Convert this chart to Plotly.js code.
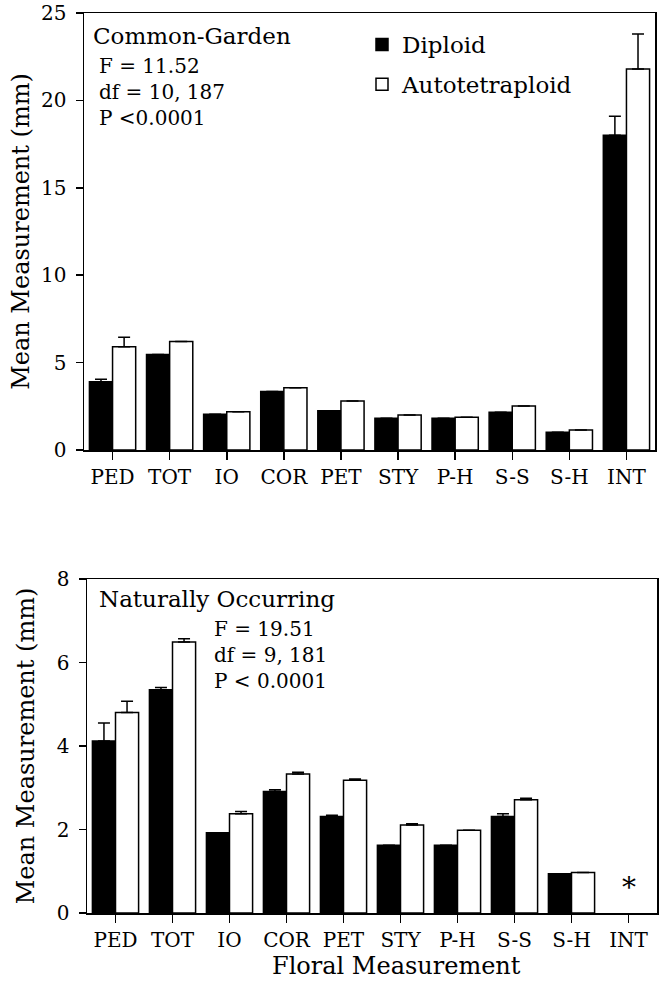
<!DOCTYPE html>
<html>
<head>
<meta charset="utf-8">
<script src="https://cdn.plot.ly/plotly-3.0.1.min.js"></script>
<style>html,body{margin:0;padding:0;background:#fff;}#chart{width:663px;height:989px;}</style>
</head>
<body>
<div id="chart"></div>
<script>
// ---- data ----
const categories = ['PED','TOT','IO','COR','PET','STY','P-H','S-S','S-H','INT'];

// Common-Garden
const gardenDiploid     = [3.9, 5.47, 2.04, 3.34, 2.25, 1.81, 1.81, 2.16, 1.01, 18.0];
const gardenDiploidErr  = [0.15, null, null, null, null, null, null, null, null, 1.1];
const gardenTetra       = [5.9, 6.2, 2.19, 3.56, 2.8, 2.0, 1.87, 2.52, 1.14, 21.8];
const gardenTetraErr    = [0.55, null, null, null, null, null, null, null, null, 2.0];

// Naturally Occurring (INT not measured)
const naturalDiploid    = [4.12, 5.35, 1.92, 2.91, 2.31, 1.62, 1.62, 2.31, 0.94, null];
const naturalDiploidErr = [0.43, 0.05, null, 0.04, 0.03, null, null, 0.07, null, null];
const naturalTetra      = [4.8, 6.49, 2.38, 3.33, 3.18, 2.11, 1.98, 2.71, 0.97, null];
const naturalTetraErr   = [0.27, 0.08, 0.05, 0.04, 0.03, 0.03, null, 0.04, null, null];

const seriesNames = ['Diploid', 'Autotetraploid'];
const gardenTicks = [0, 5, 10, 15, 20, 25];
const naturalTicks = [0, 2, 4, 6, 8];

// ---- styling ----
const W = 663, H = 989;
const px = v => v / W;
const py = v => 1 - v / H;
const FONT = 'DejaVu Serif, serif';

function errSpec(arr) {
  return {type: 'data', symmetric: false, array: arr,
          arrayminus: arr.map(() => 0),
          color: '#000', thickness: 1.5, width: 6};
}

const traces = [
  {type: 'bar', name: seriesNames[0], x: categories, y: gardenDiploid,
   xaxis: 'x', yaxis: 'y', legendgroup: 'a',
   marker: {color: '#000', line: {color: '#000', width: 1.5}},
   error_y: errSpec(gardenDiploidErr)},
  {type: 'bar', name: seriesNames[1], x: categories, y: gardenTetra,
   xaxis: 'x', yaxis: 'y', legendgroup: 'b',
   marker: {color: '#fff', line: {color: '#000', width: 1.5}},
   error_y: errSpec(gardenTetraErr)},
  {type: 'bar', name: seriesNames[0], x: categories, y: naturalDiploid,
   xaxis: 'x2', yaxis: 'y2', showlegend: false,
   marker: {color: '#000', line: {color: '#000', width: 1.5}},
   error_y: errSpec(naturalDiploidErr)},
  {type: 'bar', name: seriesNames[1], x: categories, y: naturalTetra,
   xaxis: 'x2', yaxis: 'y2', showlegend: false,
   marker: {color: '#fff', line: {color: '#000', width: 1.5}},
   error_y: errSpec(naturalTetraErr)}
];

const xBase = {
  type: 'category', range: [-0.5, 9.5], fixedrange: true,
  showline: true, mirror: true, linecolor: '#000', linewidth: 1.5,
  ticks: 'outside', ticklen: 8, tickwidth: 1.5, tickcolor: '#000',
  tickfont: {family: FONT, size: 20, color: '#000'},
  showgrid: false, zeroline: false
};
const yBase = {
  showline: true, mirror: true, linecolor: '#000', linewidth: 1.5,
  ticks: 'outside', ticklen: 7, tickwidth: 1.5, tickcolor: '#000',
  tickfont: {family: FONT, size: 20, color: '#000'}, ticklabelstandoff: 5,
  showgrid: false, zeroline: false, fixedrange: true, automargin: false
};

function ann(text, x, y, size) {
  return {text: text, xref: 'paper', yref: 'paper', x: px(x), y: py(y),
          xanchor: 'left', yanchor: 'middle', align: 'left', showarrow: false,
          font: {family: FONT, size: size, color: '#000'}};
}

const layout = {
  width: W, height: H,
  margin: {l: 0, r: 0, t: 0, b: 0},
  paper_bgcolor: '#fff', plot_bgcolor: '#fff',
  barmode: 'group', bargap: 0.19, bargroupgap: 0,
  showlegend: true,
  legend: {x: px(362), y: py(23), xanchor: 'left', yanchor: 'top',
           font: {family: FONT, size: 23, color: '#000'},
           bgcolor: 'rgba(0,0,0,0)', tracegroupgap: 7},
  xaxis: Object.assign({}, xBase, {domain: [px(84), px(655)], anchor: 'y'}),
  yaxis: Object.assign({}, yBase, {domain: [py(450), py(13)], anchor: 'x',
    range: [0, 25], tickvals: gardenTicks,
    title: {text: 'Mean Measurement (mm)', font: {family: FONT, size: 24, color: '#000'}, standoff: 4}}),
  xaxis2: Object.assign({}, xBase, {domain: [px(87), px(657)], anchor: 'y2'}),
  yaxis2: Object.assign({}, yBase, {domain: [py(913), py(579)], anchor: 'x2',
    range: [0, 8], tickvals: naturalTicks,
    title: {text: 'Mean Measurement (mm)', font: {family: FONT, size: 24, color: '#000'}, standoff: 15}}),
  annotations: [
    ann('Common-Garden', 91, 36, 23),
    ann('F = 11.52<br>df = 10, 187<br>P &lt;0.0001', 97, 92, 20),
    ann('Naturally Occurring', 97, 599, 23),
    ann('F = 19.51<br>df = 9, 181<br>P &lt; 0.0001', 212, 655, 20),
    {text: '*', xref: 'x2', yref: 'y2', x: 'INT', y: 0.6, showarrow: false,
     xanchor: 'center', yanchor: 'middle', font: {family: FONT, size: 28, color: '#000'}},
    {text: 'Floral Measurement', xref: 'paper', yref: 'paper', x: px(396), y: py(966),
     xanchor: 'center', yanchor: 'middle', showarrow: false,
     font: {family: FONT, size: 24, color: '#000'}}
  ]
};

Plotly.newPlot('chart', traces, layout, {displayModeBar: false, staticPlot: true});
</script>
</body>
</html>
